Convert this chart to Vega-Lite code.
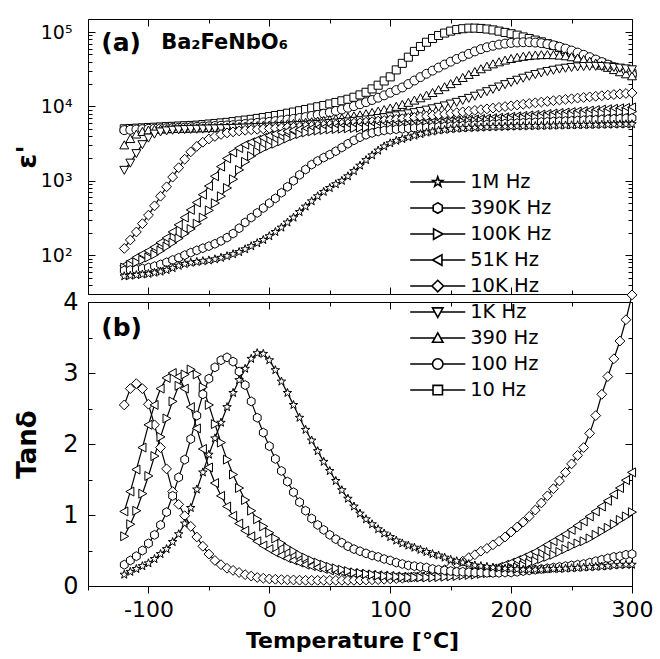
{
"$schema":"https://vega.github.io/schema/vega-lite/v6.json",
"background":"white",
"padding":{"left":12,"top":18,"right":5,"bottom":5},
"bounds":"flush",
"spacing":8,
"config":{"font":"DejaVu Sans","view":{"stroke":"black","strokeWidth":1},"axis":{"domain":false,"domainColor":"black","tickColor":"black","tickWidth":1,"labelColor":"black","titleColor":"black","grid":false,"labelFont":"DejaVu Sans","titleFont":"DejaVu Sans","labelFlush":false,"labelOverlap":false}},
"datasets":{
"annA":[{"T":-139,"v":71800,"txt":"(a)"}],
"annF":[{"T":-89.5,"v":71800,"txt":"Ba₂FeNbO₆"}],
"annB":[{"T":-139,"v":3.64,"txt":"(b)"}],
"eps":[
{"f":"10","T":-120,"v":5000},{"f":"10","T":-115,"v":5050},{"f":"10","T":-110,"v":5100},{"f":"10","T":-105,"v":5150},{"f":"10","T":-100,"v":5200},{"f":"10","T":-95,"v":5250},{"f":"10","T":-90,"v":5300},{"f":"10","T":-85,"v":5350},{"f":"10","T":-80,"v":5400},{"f":"10","T":-75,"v":5450},
{"f":"10","T":-70,"v":5500},{"f":"10","T":-65,"v":5550},{"f":"10","T":-60,"v":5600},{"f":"10","T":-55,"v":5700},{"f":"10","T":-50,"v":5800},{"f":"10","T":-45,"v":5900},{"f":"10","T":-40,"v":6000},{"f":"10","T":-35,"v":6100},{"f":"10","T":-30,"v":6250},{"f":"10","T":-25,"v":6400},
{"f":"10","T":-20,"v":6550},{"f":"10","T":-15,"v":6700},{"f":"10","T":-10,"v":6900},{"f":"10","T":-5,"v":7100},{"f":"10","T":0,"v":7300},{"f":"10","T":5,"v":7550},{"f":"10","T":10,"v":7800},{"f":"10","T":15,"v":8100},{"f":"10","T":20,"v":8400},{"f":"10","T":25,"v":8750},
{"f":"10","T":30,"v":9100},{"f":"10","T":35,"v":9500},{"f":"10","T":40,"v":9900},{"f":"10","T":45,"v":10300},{"f":"10","T":50,"v":10800},{"f":"10","T":55,"v":11300},{"f":"10","T":60,"v":11900},{"f":"10","T":65,"v":12500},{"f":"10","T":70,"v":13300},{"f":"10","T":75,"v":14300},
{"f":"10","T":80,"v":15500},{"f":"10","T":85,"v":17200},{"f":"10","T":90,"v":19300},{"f":"10","T":95,"v":22000},{"f":"10","T":100,"v":25000},{"f":"10","T":105,"v":31000},{"f":"10","T":110,"v":38000},{"f":"10","T":115,"v":46000},{"f":"10","T":120,"v":55000},{"f":"10","T":125,"v":64000},
{"f":"10","T":130,"v":73000},{"f":"10","T":135,"v":82000},{"f":"10","T":140,"v":90000},{"f":"10","T":145,"v":97000},{"f":"10","T":150,"v":103000},{"f":"10","T":155,"v":108000},{"f":"10","T":160,"v":111000},{"f":"10","T":165,"v":113000},{"f":"10","T":170,"v":113000},{"f":"10","T":175,"v":112000},
{"f":"10","T":180,"v":110000},{"f":"10","T":185,"v":107000},{"f":"10","T":190,"v":103000},{"f":"10","T":195,"v":99000},{"f":"10","T":200,"v":95000},{"f":"10","T":205,"v":91000},{"f":"10","T":210,"v":86000},{"f":"10","T":215,"v":82000},{"f":"10","T":220,"v":78000},{"f":"10","T":225,"v":74000},
{"f":"10","T":230,"v":70000},{"f":"10","T":235,"v":66000},{"f":"10","T":240,"v":62000},{"f":"10","T":245,"v":58000},{"f":"10","T":250,"v":54000},{"f":"10","T":255,"v":50500},{"f":"10","T":260,"v":47000},{"f":"10","T":265,"v":44000},{"f":"10","T":270,"v":41000},{"f":"10","T":275,"v":38500},
{"f":"10","T":280,"v":36000},{"f":"10","T":285,"v":33500},{"f":"10","T":290,"v":31500},{"f":"10","T":295,"v":29500},{"f":"10","T":300,"v":27500},
{"f":"100","T":-120,"v":4800},{"f":"100","T":-115,"v":4850},{"f":"100","T":-110,"v":4900},{"f":"100","T":-105,"v":4950},{"f":"100","T":-100,"v":5000},{"f":"100","T":-95,"v":5030},{"f":"100","T":-90,"v":5060},{"f":"100","T":-85,"v":5100},{"f":"100","T":-80,"v":5130},{"f":"100","T":-75,"v":5160},
{"f":"100","T":-70,"v":5200},{"f":"100","T":-65,"v":5250},{"f":"100","T":-60,"v":5300},{"f":"100","T":-55,"v":5350},{"f":"100","T":-50,"v":5400},{"f":"100","T":-45,"v":5450},{"f":"100","T":-40,"v":5500},{"f":"100","T":-35,"v":5550},{"f":"100","T":-30,"v":5600},{"f":"100","T":-25,"v":5700},
{"f":"100","T":-20,"v":5800},{"f":"100","T":-15,"v":5900},{"f":"100","T":-10,"v":6000},{"f":"100","T":-5,"v":6100},{"f":"100","T":0,"v":6200},{"f":"100","T":5,"v":6350},{"f":"100","T":10,"v":6500},{"f":"100","T":15,"v":6650},{"f":"100","T":20,"v":6800},{"f":"100","T":25,"v":7000},
{"f":"100","T":30,"v":7200},{"f":"100","T":35,"v":7450},{"f":"100","T":40,"v":7700},{"f":"100","T":45,"v":8000},{"f":"100","T":50,"v":8300},{"f":"100","T":55,"v":8700},{"f":"100","T":60,"v":9100},{"f":"100","T":65,"v":9600},{"f":"100","T":70,"v":10100},{"f":"100","T":75,"v":10700},
{"f":"100","T":80,"v":11400},{"f":"100","T":85,"v":12200},{"f":"100","T":90,"v":13100},{"f":"100","T":95,"v":14100},{"f":"100","T":100,"v":15300},{"f":"100","T":105,"v":16600},{"f":"100","T":110,"v":18000},{"f":"100","T":115,"v":20000},{"f":"100","T":120,"v":22300},{"f":"100","T":125,"v":24800},
{"f":"100","T":130,"v":27500},{"f":"100","T":135,"v":30300},{"f":"100","T":140,"v":33300},{"f":"100","T":145,"v":36600},{"f":"100","T":150,"v":40000},{"f":"100","T":155,"v":43500},{"f":"100","T":160,"v":47000},{"f":"100","T":165,"v":51000},{"f":"100","T":170,"v":55000},{"f":"100","T":175,"v":59000},
{"f":"100","T":180,"v":62500},{"f":"100","T":185,"v":65500},{"f":"100","T":190,"v":68000},{"f":"100","T":195,"v":70000},{"f":"100","T":200,"v":71500},{"f":"100","T":205,"v":72500},{"f":"100","T":210,"v":73000},{"f":"100","T":215,"v":73000},{"f":"100","T":220,"v":72300},{"f":"100","T":225,"v":71000},
{"f":"100","T":230,"v":69000},{"f":"100","T":235,"v":66500},{"f":"100","T":240,"v":63500},{"f":"100","T":245,"v":60000},{"f":"100","T":250,"v":56500},{"f":"100","T":255,"v":53000},{"f":"100","T":260,"v":49500},{"f":"100","T":265,"v":46000},{"f":"100","T":270,"v":42700},{"f":"100","T":275,"v":39500},
{"f":"100","T":280,"v":36500},{"f":"100","T":285,"v":33800},{"f":"100","T":290,"v":31300},{"f":"100","T":295,"v":29000},{"f":"100","T":300,"v":27000},
{"f":"390","T":-120,"v":3000},{"f":"390","T":-115,"v":3650},{"f":"390","T":-110,"v":4200},{"f":"390","T":-105,"v":4550},{"f":"390","T":-100,"v":4750},{"f":"390","T":-95,"v":4850},{"f":"390","T":-90,"v":4900},{"f":"390","T":-85,"v":4950},{"f":"390","T":-80,"v":4980},{"f":"390","T":-75,"v":5000},
{"f":"390","T":-70,"v":5020},{"f":"390","T":-65,"v":5050},{"f":"390","T":-60,"v":5080},{"f":"390","T":-55,"v":5100},{"f":"390","T":-50,"v":5130},{"f":"390","T":-45,"v":5160},{"f":"390","T":-40,"v":5200},{"f":"390","T":-35,"v":5230},{"f":"390","T":-30,"v":5260},{"f":"390","T":-25,"v":5300},
{"f":"390","T":-20,"v":5350},{"f":"390","T":-15,"v":5400},{"f":"390","T":-10,"v":5450},{"f":"390","T":-5,"v":5500},{"f":"390","T":0,"v":5550},{"f":"390","T":5,"v":5600},{"f":"390","T":10,"v":5680},{"f":"390","T":15,"v":5760},{"f":"390","T":20,"v":5850},{"f":"390","T":25,"v":5950},
{"f":"390","T":30,"v":6050},{"f":"390","T":35,"v":6150},{"f":"390","T":40,"v":6280},{"f":"390","T":45,"v":6420},{"f":"390","T":50,"v":6570},{"f":"390","T":55,"v":6740},{"f":"390","T":60,"v":6920},{"f":"390","T":65,"v":7120},{"f":"390","T":70,"v":7350},{"f":"390","T":75,"v":7600},
{"f":"390","T":80,"v":7880},{"f":"390","T":85,"v":8200},{"f":"390","T":90,"v":8550},{"f":"390","T":95,"v":8950},{"f":"390","T":100,"v":9400},{"f":"390","T":105,"v":9900},{"f":"390","T":110,"v":10500},{"f":"390","T":115,"v":11200},{"f":"390","T":120,"v":12000},{"f":"390","T":125,"v":12900},
{"f":"390","T":130,"v":14000},{"f":"390","T":135,"v":15200},{"f":"390","T":140,"v":16600},{"f":"390","T":145,"v":18200},{"f":"390","T":150,"v":20000},{"f":"390","T":155,"v":22000},{"f":"390","T":160,"v":24200},{"f":"390","T":165,"v":26600},{"f":"390","T":170,"v":29100},{"f":"390","T":175,"v":31700},
{"f":"390","T":180,"v":34300},{"f":"390","T":185,"v":36900},{"f":"390","T":190,"v":39300},{"f":"390","T":195,"v":41500},{"f":"390","T":200,"v":43500},{"f":"390","T":205,"v":45200},{"f":"390","T":210,"v":46600},{"f":"390","T":215,"v":47700},{"f":"390","T":220,"v":48500},{"f":"390","T":225,"v":49000},
{"f":"390","T":230,"v":49200},{"f":"390","T":235,"v":49000},{"f":"390","T":240,"v":48400},{"f":"390","T":245,"v":47400},{"f":"390","T":250,"v":46000},{"f":"390","T":255,"v":44300},{"f":"390","T":260,"v":42300},{"f":"390","T":265,"v":40100},{"f":"390","T":270,"v":37800},{"f":"390","T":275,"v":35400},
{"f":"390","T":280,"v":33100},{"f":"390","T":285,"v":30900},{"f":"390","T":290,"v":28900},{"f":"390","T":295,"v":27100},{"f":"390","T":300,"v":25500},
{"f":"1K","T":-120,"v":1400},{"f":"1K","T":-115,"v":1750},{"f":"1K","T":-110,"v":2350},{"f":"1K","T":-105,"v":3100},{"f":"1K","T":-100,"v":3800},{"f":"1K","T":-95,"v":4300},{"f":"1K","T":-90,"v":4600},{"f":"1K","T":-85,"v":4750},{"f":"1K","T":-80,"v":4850},{"f":"1K","T":-75,"v":4900},
{"f":"1K","T":-70,"v":4950},{"f":"1K","T":-65,"v":4980},{"f":"1K","T":-60,"v":5000},{"f":"1K","T":-55,"v":5020},{"f":"1K","T":-50,"v":5040},{"f":"1K","T":-45,"v":5060},{"f":"1K","T":-40,"v":5080},{"f":"1K","T":-35,"v":5100},{"f":"1K","T":-30,"v":5130},{"f":"1K","T":-25,"v":5160},
{"f":"1K","T":-20,"v":5190},{"f":"1K","T":-15,"v":5220},{"f":"1K","T":-10,"v":5260},{"f":"1K","T":-5,"v":5300},{"f":"1K","T":0,"v":5340},{"f":"1K","T":5,"v":5380},{"f":"1K","T":10,"v":5430},{"f":"1K","T":15,"v":5480},{"f":"1K","T":20,"v":5540},{"f":"1K","T":25,"v":5600},
{"f":"1K","T":30,"v":5660},{"f":"1K","T":35,"v":5730},{"f":"1K","T":40,"v":5800},{"f":"1K","T":45,"v":5880},{"f":"1K","T":50,"v":5960},{"f":"1K","T":55,"v":6050},{"f":"1K","T":60,"v":6150},{"f":"1K","T":65,"v":6260},{"f":"1K","T":70,"v":6380},{"f":"1K","T":75,"v":6510},
{"f":"1K","T":80,"v":6650},{"f":"1K","T":85,"v":6800},{"f":"1K","T":90,"v":6970},{"f":"1K","T":95,"v":7150},{"f":"1K","T":100,"v":7350},{"f":"1K","T":105,"v":7570},{"f":"1K","T":110,"v":7810},{"f":"1K","T":115,"v":8070},{"f":"1K","T":120,"v":8360},{"f":"1K","T":125,"v":8680},
{"f":"1K","T":130,"v":9030},{"f":"1K","T":135,"v":9420},{"f":"1K","T":140,"v":9850},{"f":"1K","T":145,"v":10300},{"f":"1K","T":150,"v":10900},{"f":"1K","T":155,"v":11500},{"f":"1K","T":160,"v":12200},{"f":"1K","T":165,"v":13000},{"f":"1K","T":170,"v":13900},{"f":"1K","T":175,"v":14900},
{"f":"1K","T":180,"v":16000},{"f":"1K","T":185,"v":17200},{"f":"1K","T":190,"v":18500},{"f":"1K","T":195,"v":19900},{"f":"1K","T":200,"v":21300},{"f":"1K","T":205,"v":22800},{"f":"1K","T":210,"v":24300},{"f":"1K","T":215,"v":25800},{"f":"1K","T":220,"v":27200},{"f":"1K","T":225,"v":28600},
{"f":"1K","T":230,"v":29900},{"f":"1K","T":235,"v":31100},{"f":"1K","T":240,"v":32200},{"f":"1K","T":245,"v":33100},{"f":"1K","T":250,"v":33900},{"f":"1K","T":255,"v":34500},{"f":"1K","T":260,"v":34900},{"f":"1K","T":265,"v":35100},{"f":"1K","T":270,"v":35100},{"f":"1K","T":275,"v":34900},
{"f":"1K","T":280,"v":34500},{"f":"1K","T":285,"v":33900},{"f":"1K","T":290,"v":33200},{"f":"1K","T":295,"v":32400},{"f":"1K","T":300,"v":31500},
{"f":"10K","T":-120,"v":123},{"f":"10K","T":-115,"v":160},{"f":"10K","T":-110,"v":205},{"f":"10K","T":-105,"v":265},{"f":"10K","T":-100,"v":345},{"f":"10K","T":-95,"v":460},{"f":"10K","T":-90,"v":620},{"f":"10K","T":-85,"v":830},{"f":"10K","T":-80,"v":1120},{"f":"10K","T":-75,"v":1500},
{"f":"10K","T":-70,"v":1950},{"f":"10K","T":-65,"v":2450},{"f":"10K","T":-60,"v":2900},{"f":"10K","T":-55,"v":3300},{"f":"10K","T":-50,"v":3650},{"f":"10K","T":-45,"v":3950},{"f":"10K","T":-40,"v":4200},{"f":"10K","T":-35,"v":4400},{"f":"10K","T":-30,"v":4550},{"f":"10K","T":-25,"v":4680},
{"f":"10K","T":-20,"v":4780},{"f":"10K","T":-15,"v":4860},{"f":"10K","T":-10,"v":4930},{"f":"10K","T":-5,"v":4990},{"f":"10K","T":0,"v":5050},{"f":"10K","T":5,"v":5100},{"f":"10K","T":10,"v":5150},{"f":"10K","T":15,"v":5200},{"f":"10K","T":20,"v":5250},{"f":"10K","T":25,"v":5300},
{"f":"10K","T":30,"v":5360},{"f":"10K","T":35,"v":5420},{"f":"10K","T":40,"v":5480},{"f":"10K","T":45,"v":5550},{"f":"10K","T":50,"v":5620},{"f":"10K","T":55,"v":5700},{"f":"10K","T":60,"v":5780},{"f":"10K","T":65,"v":5860},{"f":"10K","T":70,"v":5950},{"f":"10K","T":75,"v":6040},
{"f":"10K","T":80,"v":6140},{"f":"10K","T":85,"v":6240},{"f":"10K","T":90,"v":6350},{"f":"10K","T":95,"v":6460},{"f":"10K","T":100,"v":6580},{"f":"10K","T":105,"v":6700},{"f":"10K","T":110,"v":6830},{"f":"10K","T":115,"v":6960},{"f":"10K","T":120,"v":7100},{"f":"10K","T":125,"v":7250},
{"f":"10K","T":130,"v":7400},{"f":"10K","T":135,"v":7560},{"f":"10K","T":140,"v":7720},{"f":"10K","T":145,"v":7890},{"f":"10K","T":150,"v":8070},{"f":"10K","T":155,"v":8250},{"f":"10K","T":160,"v":8440},{"f":"10K","T":165,"v":8640},{"f":"10K","T":170,"v":8840},{"f":"10K","T":175,"v":9050},
{"f":"10K","T":180,"v":9270},{"f":"10K","T":185,"v":9500},{"f":"10K","T":190,"v":9730},{"f":"10K","T":195,"v":9970},{"f":"10K","T":200,"v":10200},{"f":"10K","T":205,"v":10450},{"f":"10K","T":210,"v":10700},{"f":"10K","T":215,"v":10950},{"f":"10K","T":220,"v":11200},{"f":"10K","T":225,"v":11450},
{"f":"10K","T":230,"v":11700},{"f":"10K","T":235,"v":11950},{"f":"10K","T":240,"v":12200},{"f":"10K","T":245,"v":12450},{"f":"10K","T":250,"v":12700},{"f":"10K","T":255,"v":12950},{"f":"10K","T":260,"v":13200},{"f":"10K","T":265,"v":13450},{"f":"10K","T":270,"v":13700},{"f":"10K","T":275,"v":13950},
{"f":"10K","T":280,"v":14200},{"f":"10K","T":285,"v":14450},{"f":"10K","T":290,"v":14700},{"f":"10K","T":295,"v":14950},{"f":"10K","T":300,"v":15200},
{"f":"51K","T":-120,"v":72},{"f":"51K","T":-115,"v":82},{"f":"51K","T":-110,"v":93},{"f":"51K","T":-105,"v":103},{"f":"51K","T":-100,"v":114},{"f":"51K","T":-95,"v":128},{"f":"51K","T":-90,"v":147},{"f":"51K","T":-85,"v":170},{"f":"51K","T":-80,"v":205},{"f":"51K","T":-75,"v":255},
{"f":"51K","T":-70,"v":320},{"f":"51K","T":-65,"v":405},{"f":"51K","T":-60,"v":510},{"f":"51K","T":-55,"v":650},{"f":"51K","T":-50,"v":850},{"f":"51K","T":-45,"v":1150},{"f":"51K","T":-40,"v":1550},{"f":"51K","T":-35,"v":2000},{"f":"51K","T":-30,"v":2400},{"f":"51K","T":-25,"v":2750},
{"f":"51K","T":-20,"v":3050},{"f":"51K","T":-15,"v":3300},{"f":"51K","T":-10,"v":3550},{"f":"51K","T":-5,"v":3800},{"f":"51K","T":0,"v":4050},{"f":"51K","T":5,"v":4270},{"f":"51K","T":10,"v":4480},{"f":"51K","T":15,"v":4640},{"f":"51K","T":20,"v":4780},{"f":"51K","T":25,"v":4880},
{"f":"51K","T":30,"v":4960},{"f":"51K","T":35,"v":5030},{"f":"51K","T":40,"v":5090},{"f":"51K","T":45,"v":5150},{"f":"51K","T":50,"v":5200},{"f":"51K","T":55,"v":5250},{"f":"51K","T":60,"v":5300},{"f":"51K","T":65,"v":5350},{"f":"51K","T":70,"v":5400},{"f":"51K","T":75,"v":5450},
{"f":"51K","T":80,"v":5500},{"f":"51K","T":85,"v":5550},{"f":"51K","T":90,"v":5600},{"f":"51K","T":95,"v":5650},{"f":"51K","T":100,"v":5700},{"f":"51K","T":105,"v":5760},{"f":"51K","T":110,"v":5820},{"f":"51K","T":115,"v":5880},{"f":"51K","T":120,"v":5940},{"f":"51K","T":125,"v":6000},
{"f":"51K","T":130,"v":6070},{"f":"51K","T":135,"v":6140},{"f":"51K","T":140,"v":6210},{"f":"51K","T":145,"v":6280},{"f":"51K","T":150,"v":6360},{"f":"51K","T":155,"v":6440},{"f":"51K","T":160,"v":6520},{"f":"51K","T":165,"v":6600},{"f":"51K","T":170,"v":6690},{"f":"51K","T":175,"v":6780},
{"f":"51K","T":180,"v":6870},{"f":"51K","T":185,"v":6960},{"f":"51K","T":190,"v":7060},{"f":"51K","T":195,"v":7160},{"f":"51K","T":200,"v":7260},{"f":"51K","T":205,"v":7360},{"f":"51K","T":210,"v":7470},{"f":"51K","T":215,"v":7580},{"f":"51K","T":220,"v":7690},{"f":"51K","T":225,"v":7800},
{"f":"51K","T":230,"v":7920},{"f":"51K","T":235,"v":8040},{"f":"51K","T":240,"v":8160},{"f":"51K","T":245,"v":8280},{"f":"51K","T":250,"v":8400},{"f":"51K","T":255,"v":8530},{"f":"51K","T":260,"v":8660},{"f":"51K","T":265,"v":8790},{"f":"51K","T":270,"v":8920},{"f":"51K","T":275,"v":9050},
{"f":"51K","T":280,"v":9180},{"f":"51K","T":285,"v":9310},{"f":"51K","T":290,"v":9440},{"f":"51K","T":295,"v":9570},{"f":"51K","T":300,"v":9700},
{"f":"100K","T":-120,"v":68},{"f":"100K","T":-115,"v":74},{"f":"100K","T":-110,"v":80},{"f":"100K","T":-105,"v":86},{"f":"100K","T":-100,"v":93},{"f":"100K","T":-95,"v":102},{"f":"100K","T":-90,"v":115},{"f":"100K","T":-85,"v":130},{"f":"100K","T":-80,"v":147},{"f":"100K","T":-75,"v":168},
{"f":"100K","T":-70,"v":195},{"f":"100K","T":-65,"v":225},{"f":"100K","T":-60,"v":265},{"f":"100K","T":-55,"v":320},{"f":"100K","T":-50,"v":400},{"f":"100K","T":-45,"v":500},{"f":"100K","T":-40,"v":620},{"f":"100K","T":-35,"v":800},{"f":"100K","T":-30,"v":1050},{"f":"100K","T":-25,"v":1400},
{"f":"100K","T":-20,"v":1800},{"f":"100K","T":-15,"v":2150},{"f":"100K","T":-10,"v":2450},{"f":"100K","T":-5,"v":2700},{"f":"100K","T":0,"v":2950},{"f":"100K","T":5,"v":3150},{"f":"100K","T":10,"v":3400},{"f":"100K","T":15,"v":3700},{"f":"100K","T":20,"v":4000},{"f":"100K","T":25,"v":4250},
{"f":"100K","T":30,"v":4450},{"f":"100K","T":35,"v":4600},{"f":"100K","T":40,"v":4720},{"f":"100K","T":45,"v":4820},{"f":"100K","T":50,"v":4900},{"f":"100K","T":55,"v":4960},{"f":"100K","T":60,"v":5020},{"f":"100K","T":65,"v":5070},{"f":"100K","T":70,"v":5120},{"f":"100K","T":75,"v":5170},
{"f":"100K","T":80,"v":5220},{"f":"100K","T":85,"v":5270},{"f":"100K","T":90,"v":5320},{"f":"100K","T":95,"v":5370},{"f":"100K","T":100,"v":5420},{"f":"100K","T":105,"v":5470},{"f":"100K","T":110,"v":5520},{"f":"100K","T":115,"v":5580},{"f":"100K","T":120,"v":5640},{"f":"100K","T":125,"v":5700},
{"f":"100K","T":130,"v":5760},{"f":"100K","T":135,"v":5820},{"f":"100K","T":140,"v":5880},{"f":"100K","T":145,"v":5940},{"f":"100K","T":150,"v":6000},{"f":"100K","T":155,"v":6070},{"f":"100K","T":160,"v":6140},{"f":"100K","T":165,"v":6210},{"f":"100K","T":170,"v":6280},{"f":"100K","T":175,"v":6350},
{"f":"100K","T":180,"v":6430},{"f":"100K","T":185,"v":6510},{"f":"100K","T":190,"v":6590},{"f":"100K","T":195,"v":6670},{"f":"100K","T":200,"v":6750},{"f":"100K","T":205,"v":6830},{"f":"100K","T":210,"v":6910},{"f":"100K","T":215,"v":7000},{"f":"100K","T":220,"v":7090},{"f":"100K","T":225,"v":7180},
{"f":"100K","T":230,"v":7270},{"f":"100K","T":235,"v":7360},{"f":"100K","T":240,"v":7450},{"f":"100K","T":245,"v":7540},{"f":"100K","T":250,"v":7630},{"f":"100K","T":255,"v":7720},{"f":"100K","T":260,"v":7810},{"f":"100K","T":265,"v":7900},{"f":"100K","T":270,"v":7990},{"f":"100K","T":275,"v":8080},
{"f":"100K","T":280,"v":8170},{"f":"100K","T":285,"v":8260},{"f":"100K","T":290,"v":8350},{"f":"100K","T":295,"v":8440},{"f":"100K","T":300,"v":8530},
{"f":"390K","T":-120,"v":62},{"f":"390K","T":-115,"v":63},{"f":"390K","T":-110,"v":64},{"f":"390K","T":-105,"v":66},{"f":"390K","T":-100,"v":68},{"f":"390K","T":-95,"v":71},{"f":"390K","T":-90,"v":75},{"f":"390K","T":-85,"v":80},{"f":"390K","T":-80,"v":86},{"f":"390K","T":-75,"v":92},
{"f":"390K","T":-70,"v":100},{"f":"390K","T":-65,"v":108},{"f":"390K","T":-60,"v":116},{"f":"390K","T":-55,"v":124},{"f":"390K","T":-50,"v":132},{"f":"390K","T":-45,"v":142},{"f":"390K","T":-40,"v":155},{"f":"390K","T":-35,"v":172},{"f":"390K","T":-30,"v":195},{"f":"390K","T":-25,"v":230},
{"f":"390K","T":-20,"v":275},{"f":"390K","T":-15,"v":320},{"f":"390K","T":-10,"v":370},{"f":"390K","T":-5,"v":430},{"f":"390K","T":0,"v":500},{"f":"390K","T":5,"v":580},{"f":"390K","T":10,"v":690},{"f":"390K","T":15,"v":830},{"f":"390K","T":20,"v":1000},{"f":"390K","T":25,"v":1200},
{"f":"390K","T":30,"v":1420},{"f":"390K","T":35,"v":1650},{"f":"390K","T":40,"v":1850},{"f":"390K","T":45,"v":2050},{"f":"390K","T":50,"v":2250},{"f":"390K","T":55,"v":2500},{"f":"390K","T":60,"v":2800},{"f":"390K","T":65,"v":3150},{"f":"390K","T":70,"v":3500},{"f":"390K","T":75,"v":3850},
{"f":"390K","T":80,"v":4150},{"f":"390K","T":85,"v":4400},{"f":"390K","T":90,"v":4600},{"f":"390K","T":95,"v":4750},{"f":"390K","T":100,"v":4850},{"f":"390K","T":105,"v":4930},{"f":"390K","T":110,"v":5000},{"f":"390K","T":115,"v":5060},{"f":"390K","T":120,"v":5120},{"f":"390K","T":125,"v":5170},
{"f":"390K","T":130,"v":5220},{"f":"390K","T":135,"v":5270},{"f":"390K","T":140,"v":5320},{"f":"390K","T":145,"v":5370},{"f":"390K","T":150,"v":5420},{"f":"390K","T":155,"v":5470},{"f":"390K","T":160,"v":5520},{"f":"390K","T":165,"v":5570},{"f":"390K","T":170,"v":5620},{"f":"390K","T":175,"v":5670},
{"f":"390K","T":180,"v":5720},{"f":"390K","T":185,"v":5770},{"f":"390K","T":190,"v":5820},{"f":"390K","T":195,"v":5870},{"f":"390K","T":200,"v":5920},{"f":"390K","T":205,"v":5970},{"f":"390K","T":210,"v":6020},{"f":"390K","T":215,"v":6070},{"f":"390K","T":220,"v":6120},{"f":"390K","T":225,"v":6170},
{"f":"390K","T":230,"v":6220},{"f":"390K","T":235,"v":6270},{"f":"390K","T":240,"v":6320},{"f":"390K","T":245,"v":6370},{"f":"390K","T":250,"v":6420},{"f":"390K","T":255,"v":6470},{"f":"390K","T":260,"v":6520},{"f":"390K","T":265,"v":6570},{"f":"390K","T":270,"v":6620},{"f":"390K","T":275,"v":6680},
{"f":"390K","T":280,"v":6740},{"f":"390K","T":285,"v":6800},{"f":"390K","T":290,"v":6860},{"f":"390K","T":295,"v":6920},{"f":"390K","T":300,"v":6980},
{"f":"1M","T":-120,"v":52},{"f":"1M","T":-115,"v":53},{"f":"1M","T":-110,"v":54},{"f":"1M","T":-105,"v":55},{"f":"1M","T":-100,"v":56},{"f":"1M","T":-95,"v":58},{"f":"1M","T":-90,"v":60},{"f":"1M","T":-85,"v":63},{"f":"1M","T":-80,"v":67},{"f":"1M","T":-75,"v":72},
{"f":"1M","T":-70,"v":76},{"f":"1M","T":-65,"v":79},{"f":"1M","T":-60,"v":81},{"f":"1M","T":-55,"v":83},{"f":"1M","T":-50,"v":85},{"f":"1M","T":-45,"v":88},{"f":"1M","T":-40,"v":92},{"f":"1M","T":-35,"v":97},{"f":"1M","T":-30,"v":103},{"f":"1M","T":-25,"v":110},
{"f":"1M","T":-20,"v":120},{"f":"1M","T":-15,"v":132},{"f":"1M","T":-10,"v":145},{"f":"1M","T":-5,"v":160},{"f":"1M","T":0,"v":180},{"f":"1M","T":5,"v":205},{"f":"1M","T":10,"v":235},{"f":"1M","T":15,"v":275},{"f":"1M","T":20,"v":320},{"f":"1M","T":25,"v":380},
{"f":"1M","T":30,"v":450},{"f":"1M","T":35,"v":530},{"f":"1M","T":40,"v":620},{"f":"1M","T":45,"v":710},{"f":"1M","T":50,"v":800},{"f":"1M","T":55,"v":900},{"f":"1M","T":60,"v":1000},{"f":"1M","T":65,"v":1150},{"f":"1M","T":70,"v":1350},{"f":"1M","T":75,"v":1600},
{"f":"1M","T":80,"v":1900},{"f":"1M","T":85,"v":2200},{"f":"1M","T":90,"v":2550},{"f":"1M","T":95,"v":2900},{"f":"1M","T":100,"v":3200},{"f":"1M","T":105,"v":3450},{"f":"1M","T":110,"v":3650},{"f":"1M","T":115,"v":3850},{"f":"1M","T":120,"v":4050},{"f":"1M","T":125,"v":4250},
{"f":"1M","T":130,"v":4450},{"f":"1M","T":135,"v":4600},{"f":"1M","T":140,"v":4750},{"f":"1M","T":145,"v":4850},{"f":"1M","T":150,"v":4950},{"f":"1M","T":155,"v":5020},{"f":"1M","T":160,"v":5080},{"f":"1M","T":165,"v":5130},{"f":"1M","T":170,"v":5170},{"f":"1M","T":175,"v":5210},
{"f":"1M","T":180,"v":5250},{"f":"1M","T":185,"v":5280},{"f":"1M","T":190,"v":5310},{"f":"1M","T":195,"v":5340},{"f":"1M","T":200,"v":5370},{"f":"1M","T":205,"v":5400},{"f":"1M","T":210,"v":5420},{"f":"1M","T":215,"v":5440},{"f":"1M","T":220,"v":5460},{"f":"1M","T":225,"v":5480},
{"f":"1M","T":230,"v":5500},{"f":"1M","T":235,"v":5520},{"f":"1M","T":240,"v":5540},{"f":"1M","T":245,"v":5560},{"f":"1M","T":250,"v":5580},{"f":"1M","T":255,"v":5600},{"f":"1M","T":260,"v":5620},{"f":"1M","T":265,"v":5640},{"f":"1M","T":270,"v":5660},{"f":"1M","T":275,"v":5680},
{"f":"1M","T":280,"v":5700},{"f":"1M","T":285,"v":5720},{"f":"1M","T":290,"v":5740},{"f":"1M","T":295,"v":5760},{"f":"1M","T":300,"v":5780}
],
"tan":[
{"f":"10K","T":-120,"v":2.55},{"f":"10K","T":-115,"v":2.78},{"f":"10K","T":-110,"v":2.85},{"f":"10K","T":-105,"v":2.78},{"f":"10K","T":-100,"v":2.56},{"f":"10K","T":-95,"v":2.27},{"f":"10K","T":-90,"v":1.95},{"f":"10K","T":-85,"v":1.65},{"f":"10K","T":-80,"v":1.33},{"f":"10K","T":-75,"v":1.15},
{"f":"10K","T":-70,"v":0.99},{"f":"10K","T":-65,"v":0.84},{"f":"10K","T":-60,"v":0.69},{"f":"10K","T":-55,"v":0.56},{"f":"10K","T":-50,"v":0.45},{"f":"10K","T":-45,"v":0.36},{"f":"10K","T":-40,"v":0.30},{"f":"10K","T":-35,"v":0.25},{"f":"10K","T":-30,"v":0.22},{"f":"10K","T":-25,"v":0.19},
{"f":"10K","T":-20,"v":0.16},{"f":"10K","T":-15,"v":0.14},{"f":"10K","T":-10,"v":0.12},{"f":"10K","T":-5,"v":0.11},{"f":"10K","T":0,"v":0.10},{"f":"10K","T":5,"v":0.095},{"f":"10K","T":10,"v":0.09},{"f":"10K","T":15,"v":0.087},{"f":"10K","T":20,"v":0.085},{"f":"10K","T":25,"v":0.082},
{"f":"10K","T":30,"v":0.08},{"f":"10K","T":35,"v":0.08},{"f":"10K","T":40,"v":0.08},{"f":"10K","T":45,"v":0.08},{"f":"10K","T":50,"v":0.08},{"f":"10K","T":55,"v":0.08},{"f":"10K","T":60,"v":0.08},{"f":"10K","T":65,"v":0.08},{"f":"10K","T":70,"v":0.08},{"f":"10K","T":75,"v":0.082},
{"f":"10K","T":80,"v":0.085},{"f":"10K","T":85,"v":0.087},{"f":"10K","T":90,"v":0.09},{"f":"10K","T":95,"v":0.095},{"f":"10K","T":100,"v":0.10},{"f":"10K","T":105,"v":0.105},{"f":"10K","T":110,"v":0.11},{"f":"10K","T":115,"v":0.12},{"f":"10K","T":120,"v":0.13},{"f":"10K","T":125,"v":0.14},
{"f":"10K","T":130,"v":0.15},{"f":"10K","T":135,"v":0.17},{"f":"10K","T":140,"v":0.20},{"f":"10K","T":145,"v":0.23},{"f":"10K","T":150,"v":0.27},{"f":"10K","T":155,"v":0.31},{"f":"10K","T":160,"v":0.35},{"f":"10K","T":165,"v":0.40},{"f":"10K","T":170,"v":0.44},{"f":"10K","T":175,"v":0.49},
{"f":"10K","T":180,"v":0.53},{"f":"10K","T":185,"v":0.58},{"f":"10K","T":190,"v":0.63},{"f":"10K","T":195,"v":0.69},{"f":"10K","T":200,"v":0.76},{"f":"10K","T":205,"v":0.83},{"f":"10K","T":210,"v":0.90},{"f":"10K","T":215,"v":0.98},{"f":"10K","T":220,"v":1.07},{"f":"10K","T":225,"v":1.17},
{"f":"10K","T":230,"v":1.27},{"f":"10K","T":235,"v":1.37},{"f":"10K","T":240,"v":1.48},{"f":"10K","T":245,"v":1.60},{"f":"10K","T":250,"v":1.72},{"f":"10K","T":255,"v":1.84},{"f":"10K","T":260,"v":1.95},{"f":"10K","T":265,"v":2.15},{"f":"10K","T":270,"v":2.40},{"f":"10K","T":275,"v":2.70},
{"f":"10K","T":280,"v":2.95},{"f":"10K","T":285,"v":3.20},{"f":"10K","T":290,"v":3.45},{"f":"10K","T":295,"v":3.75},{"f":"10K","T":300,"v":4.10},
{"f":"51K","T":-120,"v":1.05},{"f":"51K","T":-115,"v":1.33},{"f":"51K","T":-110,"v":1.64},{"f":"51K","T":-105,"v":1.95},{"f":"51K","T":-100,"v":2.27},{"f":"51K","T":-95,"v":2.55},{"f":"51K","T":-90,"v":2.78},{"f":"51K","T":-85,"v":2.93},{"f":"51K","T":-80,"v":3.00},{"f":"51K","T":-75,"v":2.95},
{"f":"51K","T":-70,"v":2.78},{"f":"51K","T":-65,"v":2.52},{"f":"51K","T":-60,"v":2.22},{"f":"51K","T":-55,"v":1.93},{"f":"51K","T":-50,"v":1.67},{"f":"51K","T":-45,"v":1.45},{"f":"51K","T":-40,"v":1.27},{"f":"51K","T":-35,"v":1.12},{"f":"51K","T":-30,"v":0.99},{"f":"51K","T":-25,"v":0.88},
{"f":"51K","T":-20,"v":0.78},{"f":"51K","T":-15,"v":0.70},{"f":"51K","T":-10,"v":0.63},{"f":"51K","T":-5,"v":0.57},{"f":"51K","T":0,"v":0.52},{"f":"51K","T":5,"v":0.47},{"f":"51K","T":10,"v":0.43},{"f":"51K","T":15,"v":0.39},{"f":"51K","T":20,"v":0.36},{"f":"51K","T":25,"v":0.33},
{"f":"51K","T":30,"v":0.30},{"f":"51K","T":35,"v":0.28},{"f":"51K","T":40,"v":0.26},{"f":"51K","T":45,"v":0.24},{"f":"51K","T":50,"v":0.22},{"f":"51K","T":55,"v":0.21},{"f":"51K","T":60,"v":0.20},{"f":"51K","T":65,"v":0.19},{"f":"51K","T":70,"v":0.18},{"f":"51K","T":75,"v":0.17},
{"f":"51K","T":80,"v":0.16},{"f":"51K","T":85,"v":0.155},{"f":"51K","T":90,"v":0.15},{"f":"51K","T":95,"v":0.145},{"f":"51K","T":100,"v":0.14},{"f":"51K","T":105,"v":0.135},{"f":"51K","T":110,"v":0.13},{"f":"51K","T":115,"v":0.13},{"f":"51K","T":120,"v":0.13},{"f":"51K","T":125,"v":0.13},
{"f":"51K","T":130,"v":0.135},{"f":"51K","T":135,"v":0.14},{"f":"51K","T":140,"v":0.145},{"f":"51K","T":145,"v":0.15},{"f":"51K","T":150,"v":0.16},{"f":"51K","T":155,"v":0.17},{"f":"51K","T":160,"v":0.18},{"f":"51K","T":165,"v":0.19},{"f":"51K","T":170,"v":0.20},{"f":"51K","T":175,"v":0.21},
{"f":"51K","T":180,"v":0.22},{"f":"51K","T":185,"v":0.245},{"f":"51K","T":190,"v":0.27},{"f":"51K","T":195,"v":0.30},{"f":"51K","T":200,"v":0.33},{"f":"51K","T":205,"v":0.365},{"f":"51K","T":210,"v":0.40},{"f":"51K","T":215,"v":0.44},{"f":"51K","T":220,"v":0.48},{"f":"51K","T":225,"v":0.53},
{"f":"51K","T":230,"v":0.58},{"f":"51K","T":235,"v":0.63},{"f":"51K","T":240,"v":0.68},{"f":"51K","T":245,"v":0.73},{"f":"51K","T":250,"v":0.79},{"f":"51K","T":255,"v":0.85},{"f":"51K","T":260,"v":0.91},{"f":"51K","T":265,"v":0.98},{"f":"51K","T":270,"v":1.05},{"f":"51K","T":275,"v":1.12},
{"f":"51K","T":280,"v":1.20},{"f":"51K","T":285,"v":1.29},{"f":"51K","T":290,"v":1.38},{"f":"51K","T":295,"v":1.49},{"f":"51K","T":300,"v":1.60},
{"f":"100K","T":-120,"v":0.70},{"f":"100K","T":-115,"v":0.87},{"f":"100K","T":-110,"v":1.06},{"f":"100K","T":-105,"v":1.30},{"f":"100K","T":-100,"v":1.55},{"f":"100K","T":-95,"v":1.83},{"f":"100K","T":-90,"v":2.10},{"f":"100K","T":-85,"v":2.36},{"f":"100K","T":-80,"v":2.60},{"f":"100K","T":-75,"v":2.82},
{"f":"100K","T":-70,"v":2.98},{"f":"100K","T":-65,"v":3.05},{"f":"100K","T":-60,"v":2.98},{"f":"100K","T":-55,"v":2.80},{"f":"100K","T":-50,"v":2.55},{"f":"100K","T":-45,"v":2.28},{"f":"100K","T":-40,"v":2.02},{"f":"100K","T":-35,"v":1.78},{"f":"100K","T":-30,"v":1.57},{"f":"100K","T":-25,"v":1.38},
{"f":"100K","T":-20,"v":1.21},{"f":"100K","T":-15,"v":1.06},{"f":"100K","T":-10,"v":0.94},{"f":"100K","T":-5,"v":0.84},{"f":"100K","T":0,"v":0.75},{"f":"100K","T":5,"v":0.67},{"f":"100K","T":10,"v":0.60},{"f":"100K","T":15,"v":0.54},{"f":"100K","T":20,"v":0.49},{"f":"100K","T":25,"v":0.44},
{"f":"100K","T":30,"v":0.40},{"f":"100K","T":35,"v":0.36},{"f":"100K","T":40,"v":0.33},{"f":"100K","T":45,"v":0.30},{"f":"100K","T":50,"v":0.27},{"f":"100K","T":55,"v":0.25},{"f":"100K","T":60,"v":0.23},{"f":"100K","T":65,"v":0.21},{"f":"100K","T":70,"v":0.19},{"f":"100K","T":75,"v":0.18},
{"f":"100K","T":80,"v":0.17},{"f":"100K","T":85,"v":0.16},{"f":"100K","T":90,"v":0.15},{"f":"100K","T":95,"v":0.14},{"f":"100K","T":100,"v":0.135},{"f":"100K","T":105,"v":0.13},{"f":"100K","T":110,"v":0.125},{"f":"100K","T":115,"v":0.12},{"f":"100K","T":120,"v":0.12},{"f":"100K","T":125,"v":0.12},
{"f":"100K","T":130,"v":0.12},{"f":"100K","T":135,"v":0.12},{"f":"100K","T":140,"v":0.125},{"f":"100K","T":145,"v":0.13},{"f":"100K","T":150,"v":0.135},{"f":"100K","T":155,"v":0.14},{"f":"100K","T":160,"v":0.15},{"f":"100K","T":165,"v":0.155},{"f":"100K","T":170,"v":0.16},{"f":"100K","T":175,"v":0.17},
{"f":"100K","T":180,"v":0.18},{"f":"100K","T":185,"v":0.19},{"f":"100K","T":190,"v":0.20},{"f":"100K","T":195,"v":0.22},{"f":"100K","T":200,"v":0.24},{"f":"100K","T":205,"v":0.26},{"f":"100K","T":210,"v":0.29},{"f":"100K","T":215,"v":0.32},{"f":"100K","T":220,"v":0.35},{"f":"100K","T":225,"v":0.38},
{"f":"100K","T":230,"v":0.41},{"f":"100K","T":235,"v":0.44},{"f":"100K","T":240,"v":0.48},{"f":"100K","T":245,"v":0.52},{"f":"100K","T":250,"v":0.56},{"f":"100K","T":255,"v":0.60},{"f":"100K","T":260,"v":0.63},{"f":"100K","T":265,"v":0.67},{"f":"100K","T":270,"v":0.72},{"f":"100K","T":275,"v":0.77},
{"f":"100K","T":280,"v":0.82},{"f":"100K","T":285,"v":0.87},{"f":"100K","T":290,"v":0.93},{"f":"100K","T":295,"v":0.98},{"f":"100K","T":300,"v":1.04},
{"f":"390K","T":-120,"v":0.30},{"f":"390K","T":-115,"v":0.36},{"f":"390K","T":-110,"v":0.42},{"f":"390K","T":-105,"v":0.50},{"f":"390K","T":-100,"v":0.60},{"f":"390K","T":-95,"v":0.72},{"f":"390K","T":-90,"v":0.86},{"f":"390K","T":-85,"v":1.04},{"f":"390K","T":-80,"v":1.27},{"f":"390K","T":-75,"v":1.53},
{"f":"390K","T":-70,"v":1.78},{"f":"390K","T":-65,"v":2.07},{"f":"390K","T":-60,"v":2.40},{"f":"390K","T":-55,"v":2.70},{"f":"390K","T":-50,"v":2.92},{"f":"390K","T":-45,"v":3.08},{"f":"390K","T":-40,"v":3.18},{"f":"390K","T":-35,"v":3.22},{"f":"390K","T":-30,"v":3.16},{"f":"390K","T":-25,"v":3.02},
{"f":"390K","T":-20,"v":2.83},{"f":"390K","T":-15,"v":2.60},{"f":"390K","T":-10,"v":2.37},{"f":"390K","T":-5,"v":2.16},{"f":"390K","T":0,"v":1.97},{"f":"390K","T":5,"v":1.79},{"f":"390K","T":10,"v":1.62},{"f":"390K","T":15,"v":1.47},{"f":"390K","T":20,"v":1.32},{"f":"390K","T":25,"v":1.18},
{"f":"390K","T":30,"v":1.06},{"f":"390K","T":35,"v":0.95},{"f":"390K","T":40,"v":0.86},{"f":"390K","T":45,"v":0.79},{"f":"390K","T":50,"v":0.72},{"f":"390K","T":55,"v":0.66},{"f":"390K","T":60,"v":0.61},{"f":"390K","T":65,"v":0.56},{"f":"390K","T":70,"v":0.52},{"f":"390K","T":75,"v":0.49},
{"f":"390K","T":80,"v":0.46},{"f":"390K","T":85,"v":0.43},{"f":"390K","T":90,"v":0.41},{"f":"390K","T":95,"v":0.38},{"f":"390K","T":100,"v":0.36},{"f":"390K","T":105,"v":0.33},{"f":"390K","T":110,"v":0.31},{"f":"390K","T":115,"v":0.29},{"f":"390K","T":120,"v":0.28},{"f":"390K","T":125,"v":0.27},
{"f":"390K","T":130,"v":0.26},{"f":"390K","T":135,"v":0.24},{"f":"390K","T":140,"v":0.23},{"f":"390K","T":145,"v":0.22},{"f":"390K","T":150,"v":0.21},{"f":"390K","T":155,"v":0.20},{"f":"390K","T":160,"v":0.20},{"f":"390K","T":165,"v":0.195},{"f":"390K","T":170,"v":0.19},{"f":"390K","T":175,"v":0.19},
{"f":"390K","T":180,"v":0.185},{"f":"390K","T":185,"v":0.185},{"f":"390K","T":190,"v":0.185},{"f":"390K","T":195,"v":0.19},{"f":"390K","T":200,"v":0.19},{"f":"390K","T":205,"v":0.20},{"f":"390K","T":210,"v":0.21},{"f":"390K","T":215,"v":0.22},{"f":"390K","T":220,"v":0.23},{"f":"390K","T":225,"v":0.24},
{"f":"390K","T":230,"v":0.25},{"f":"390K","T":235,"v":0.26},{"f":"390K","T":240,"v":0.27},{"f":"390K","T":245,"v":0.28},{"f":"390K","T":250,"v":0.29},{"f":"390K","T":255,"v":0.30},{"f":"390K","T":260,"v":0.31},{"f":"390K","T":265,"v":0.33},{"f":"390K","T":270,"v":0.35},{"f":"390K","T":275,"v":0.37},
{"f":"390K","T":280,"v":0.39},{"f":"390K","T":285,"v":0.41},{"f":"390K","T":290,"v":0.42},{"f":"390K","T":295,"v":0.44},{"f":"390K","T":300,"v":0.45},
{"f":"1M","T":-120,"v":0.16},{"f":"1M","T":-115,"v":0.20},{"f":"1M","T":-110,"v":0.24},{"f":"1M","T":-105,"v":0.28},{"f":"1M","T":-100,"v":0.32},{"f":"1M","T":-95,"v":0.38},{"f":"1M","T":-90,"v":0.45},{"f":"1M","T":-85,"v":0.52},{"f":"1M","T":-80,"v":0.62},{"f":"1M","T":-75,"v":0.73},
{"f":"1M","T":-70,"v":0.88},{"f":"1M","T":-65,"v":1.10},{"f":"1M","T":-60,"v":1.36},{"f":"1M","T":-55,"v":1.60},{"f":"1M","T":-50,"v":1.85},{"f":"1M","T":-45,"v":2.08},{"f":"1M","T":-40,"v":2.30},{"f":"1M","T":-35,"v":2.52},{"f":"1M","T":-30,"v":2.72},{"f":"1M","T":-25,"v":2.90},
{"f":"1M","T":-20,"v":3.06},{"f":"1M","T":-15,"v":3.20},{"f":"1M","T":-10,"v":3.28},{"f":"1M","T":-5,"v":3.27},{"f":"1M","T":0,"v":3.18},{"f":"1M","T":5,"v":3.04},{"f":"1M","T":10,"v":2.88},{"f":"1M","T":15,"v":2.72},{"f":"1M","T":20,"v":2.55},{"f":"1M","T":25,"v":2.37},
{"f":"1M","T":30,"v":2.20},{"f":"1M","T":35,"v":2.05},{"f":"1M","T":40,"v":1.90},{"f":"1M","T":45,"v":1.75},{"f":"1M","T":50,"v":1.62},{"f":"1M","T":55,"v":1.48},{"f":"1M","T":60,"v":1.35},{"f":"1M","T":65,"v":1.23},{"f":"1M","T":70,"v":1.12},{"f":"1M","T":75,"v":1.02},
{"f":"1M","T":80,"v":0.94},{"f":"1M","T":85,"v":0.87},{"f":"1M","T":90,"v":0.80},{"f":"1M","T":95,"v":0.74},{"f":"1M","T":100,"v":0.69},{"f":"1M","T":105,"v":0.64},{"f":"1M","T":110,"v":0.60},{"f":"1M","T":115,"v":0.57},{"f":"1M","T":120,"v":0.54},{"f":"1M","T":125,"v":0.51},
{"f":"1M","T":130,"v":0.48},{"f":"1M","T":135,"v":0.45},{"f":"1M","T":140,"v":0.43},{"f":"1M","T":145,"v":0.40},{"f":"1M","T":150,"v":0.37},{"f":"1M","T":155,"v":0.35},{"f":"1M","T":160,"v":0.33},{"f":"1M","T":165,"v":0.31},{"f":"1M","T":170,"v":0.29},{"f":"1M","T":175,"v":0.28},
{"f":"1M","T":180,"v":0.27},{"f":"1M","T":185,"v":0.26},{"f":"1M","T":190,"v":0.25},{"f":"1M","T":195,"v":0.245},{"f":"1M","T":200,"v":0.24},{"f":"1M","T":205,"v":0.235},{"f":"1M","T":210,"v":0.23},{"f":"1M","T":215,"v":0.23},{"f":"1M","T":220,"v":0.23},{"f":"1M","T":225,"v":0.23},
{"f":"1M","T":230,"v":0.235},{"f":"1M","T":235,"v":0.24},{"f":"1M","T":240,"v":0.24},{"f":"1M","T":245,"v":0.245},{"f":"1M","T":250,"v":0.25},{"f":"1M","T":255,"v":0.255},{"f":"1M","T":260,"v":0.26},{"f":"1M","T":265,"v":0.265},{"f":"1M","T":270,"v":0.27},{"f":"1M","T":275,"v":0.275},
{"f":"1M","T":280,"v":0.28},{"f":"1M","T":285,"v":0.29},{"f":"1M","T":290,"v":0.295},{"f":"1M","T":295,"v":0.30},{"f":"1M","T":300,"v":0.30}
]},
"vconcat":[
{"width":544,"height":275,
 "layer":[
  {"data":{"name":"eps"},"mark":{"type":"line","stroke":"black","strokeWidth":1.2},
   "encoding":{
    "x":{"field":"T","type":"quantitative","scale":{"domain":[-150,300],"nice":false,"zero":false},
     "axis":{"orient":"bottom","values":[-150,-100,-50,0,50,100,150,200,250,300],"labels":false,"title":null,"tickSize":{"condition":{"test":"datum.value % 100 != 0","value":-4},"value":-7}}},
    "y":{"field":"v","type":"quantitative","scale":{"type":"log","domain":[30,150000],"nice":false},
     "axis":{"orient":"left","values":[30,40,50,60,70,80,90,100,200,300,400,500,600,700,800,900,1000,2000,3000,4000,5000,6000,7000,8000,9000,10000,20000,30000,40000,50000,60000,70000,80000,90000,100000],
      "labelExpr":"datum.value == 100 ? '10²' : datum.value == 1000 ? '10³' : datum.value == 10000 ? '10⁴' : datum.value == 100000 ? '10⁵' : ''",
      "labelFontSize":19,"labelPadding":23,
      "tickSize":{"condition":{"test":"indexof([100,1000,10000,100000], datum.value) < 0","value":-4},"value":-7},
      "title":"ε'","titleFontSize":27,"titleFontWeight":"bold","titleX":-61,"titleY":137.5,"titleAngle":-90,"titleBaseline":"middle","titleAlign":"center"}},
    "detail":{"field":"f"}}},
  {"data":{"name":"eps"},"mark":{"type":"point","size":80,"strokeWidth":1,"stroke":"black","fill":"white","filled":false,"opacity":1},
   "encoding":{
    "x":{"field":"T","type":"quantitative","axis":null},
    "y":{"field":"v","type":"quantitative","axis":null},
    "shape":{"field":"f","type":"nominal","legend":null,
     "scale":{"domain":["1M","390K","100K","51K","10K","1K","390","100","10"],
      "range":["M0,-1L0.235,-0.324L0.951,-0.309L0.38,0.124L0.588,0.809L0,0.4L-0.588,0.809L-0.38,0.124L-0.951,-0.309L-0.235,-0.324Z","M0,-1L0.866,-0.5L0.866,0.5L0,1L-0.866,0.5L-0.866,-0.5Z","M1,0L-0.8,-1L-0.8,1Z","M-1,0L0.8,-1L0.8,1Z","M0,-1.1L1.1,0L0,1.1L-1.1,0Z","M0,1L1,-0.8L-1,-0.8Z","M0,-1L1,0.8L-1,0.8Z","M1,0A1,1,0,1,1,-1,0A1,1,0,1,1,1,0Z","M-0.9,-0.9H0.9V0.9H-0.9Z"]}}}},
  {"data":{"name":"eps"},"mark":{"type":"point","size":110,"strokeWidth":1.6,"color":"black","opacity":0},
   "encoding":{
    "x":{"field":"T","type":"quantitative","axis":null},
    "y":{"field":"v","type":"quantitative","axis":null},
    "shape":{"field":"f","type":"nominal",
     "scale":{"domain":["1M","390K","100K","51K","10K","1K","390","100","10"],
      "range":["M-5.25,0H-0.54M0.54,0H5.25M0,-1L0.235,-0.324L0.951,-0.309L0.38,0.124L0.588,0.809L0,0.4L-0.588,0.809L-0.38,0.124L-0.951,-0.309L-0.235,-0.324Z","M-5.25,0H-0.866M0.866,0H5.25M0,-1L0.866,-0.5L0.866,0.5L0,1L-0.866,0.5L-0.866,-0.5Z","M-5.25,0H-0.8M1,0H5.25M1,0L-0.8,-1L-0.8,1Z","M-5.25,0H-1M0.8,0H5.25M-1,0L0.8,-1L0.8,1Z","M-5.25,0H-1.1M1.1,0H5.25M0,-1.1L1.1,0L0,1.1L-1.1,0Z","M-5.25,0H-0.556M0.556,0H5.25M0,1L1,-0.8L-1,-0.8Z","M-5.25,0H-0.556M0.556,0H5.25M0,-1L1,0.8L-1,0.8Z","M-5.25,0H-1M1,0H5.25M1,0A1,1,0,1,1,-1,0A1,1,0,1,1,1,0Z","M-5.25,0H-0.9M0.9,0H5.25M-0.9,-0.9H0.9V0.9H-0.9Z"]},
     "legend":{"orient":"none","legendX":340,"legendY":153.3,"title":null,"padding":0,"labelFont":"DejaVu Sans","labelFontSize":19.5,"labelColor":"black","labelOffset":22.7,"rowPadding":5.0,"symbolSize":110,"symbolOpacity":1,"symbolStrokeColor":"black","symbolStrokeWidth":1.6,
      "labelExpr":"datum.label == '10' ? '\u00a010 Hz' : datum.label + ' Hz'"}}}},
  {"data":{"name":"annA"},"mark":{"type":"text","align":"left","baseline":"middle","fontSize":25,"fontWeight":"bold","font":"DejaVu Sans","color":"black"},
   "encoding":{
    "x":{"field":"T","type":"quantitative","axis":{"orient":"top","values":[-150,-100,-50,0,50,100,150,200,250,300],"labels":false,"title":null,"tickSize":{"condition":{"test":"datum.value % 100 != 0","value":-4},"value":-7}}},
    "y":{"field":"v","type":"quantitative","axis":{"orient":"right","values":[30,40,50,60,70,80,90,100,200,300,400,500,600,700,800,900,1000,2000,3000,4000,5000,6000,7000,8000,9000,10000,20000,30000,40000,50000,60000,70000,80000,90000,100000],"labels":false,"title":null,"tickSize":{"condition":{"test":"indexof([100,1000,10000,100000], datum.value) < 0","value":-4},"value":-7}}},
    "text":{"field":"txt"}}},
  {"data":{"name":"annF"},"mark":{"type":"text","align":"left","baseline":"middle","fontSize":21,"fontWeight":"bold","font":"DejaVu Sans","color":"black"},
   "encoding":{
    "x":{"field":"T","type":"quantitative","axis":null},
    "y":{"field":"v","type":"quantitative","axis":null},
    "text":{"field":"txt"}}}
 ],
 "resolve":{"axis":{"x":"independent","y":"independent"},"scale":{"shape":"independent"}}
},
{"width":544,"height":284,
 "layer":[
  {"data":{"name":"tan"},"mark":{"type":"line","stroke":"black","strokeWidth":1.2},
   "encoding":{
    "x":{"field":"T","type":"quantitative","scale":{"domain":[-150,300],"nice":false,"zero":false},
     "axis":{"orient":"bottom","values":[-150,-100,-50,0,50,100,150,200,250,300],
      "labelExpr":"datum.value % 100 == 0 ? toString(datum.value) : ''","labelFontSize":22,"labelPadding":6,
      "tickSize":{"condition":{"test":"datum.value % 100 != 0","value":4},"value":7},
      "title":"Temperature [°C]","titleFontSize":22,"titleFontWeight":"bold","titleX":264,"titleY":61,"titleBaseline":"alphabetic","titleAlign":"center"}},
    "y":{"field":"v","type":"quantitative","scale":{"domain":[0,4],"nice":false},
     "axis":{"orient":"left","values":[0,0.5,1,1.5,2,2.5,3,3.5,4],
      "labelExpr":"datum.value % 1 == 0 ? toString(datum.value) : ''","labelFontSize":24,"labelPadding":17,
      "tickSize":{"condition":{"test":"datum.value % 1 != 0","value":-4},"value":-7},
      "title":"Tanδ","titleFontSize":26,"titleFontWeight":"bold","titleX":-61,"titleY":142,"titleAngle":-90,"titleBaseline":"middle","titleAlign":"center"}},
    "detail":{"field":"f"}}},
  {"data":{"name":"tan"},"mark":{"type":"point","size":80,"strokeWidth":1,"stroke":"black","fill":"white","filled":false,"opacity":1},
   "encoding":{
    "x":{"field":"T","type":"quantitative","axis":null},
    "y":{"field":"v","type":"quantitative","axis":null},
    "shape":{"field":"f","type":"nominal","legend":null,
     "scale":{"domain":["1M","390K","100K","51K","10K","1K","390","100","10"],
      "range":["M0,-1L0.235,-0.324L0.951,-0.309L0.38,0.124L0.588,0.809L0,0.4L-0.588,0.809L-0.38,0.124L-0.951,-0.309L-0.235,-0.324Z","M0,-1L0.866,-0.5L0.866,0.5L0,1L-0.866,0.5L-0.866,-0.5Z","M1,0L-0.8,-1L-0.8,1Z","M-1,0L0.8,-1L0.8,1Z","M0,-1.1L1.1,0L0,1.1L-1.1,0Z","M0,1L1,-0.8L-1,-0.8Z","M0,-1L1,0.8L-1,0.8Z","M1,0A1,1,0,1,1,-1,0A1,1,0,1,1,1,0Z","M-0.9,-0.9H0.9V0.9H-0.9Z"]}}}},
  {"data":{"name":"annB"},"mark":{"type":"text","align":"left","baseline":"middle","fontSize":25,"fontWeight":"bold","font":"DejaVu Sans","color":"black"},
   "encoding":{
    "x":{"field":"T","type":"quantitative","axis":{"orient":"top","values":[-150,-100,-50,0,50,100,150,200,250,300],"labels":false,"title":null,"tickSize":{"condition":{"test":"datum.value % 100 != 0","value":-4},"value":-7}}},
    "y":{"field":"v","type":"quantitative","axis":{"orient":"right","values":[0,0.5,1,1.5,2,2.5,3,3.5,4],"labels":false,"title":null,"tickSize":{"condition":{"test":"datum.value % 1 != 0","value":-4},"value":-7}}},
    "text":{"field":"txt"}}}
 ],
 "resolve":{"axis":{"x":"independent","y":"independent"}}
}
],
"resolve":{"scale":{"shape":"independent"},"legend":{"shape":"independent"}}
}
